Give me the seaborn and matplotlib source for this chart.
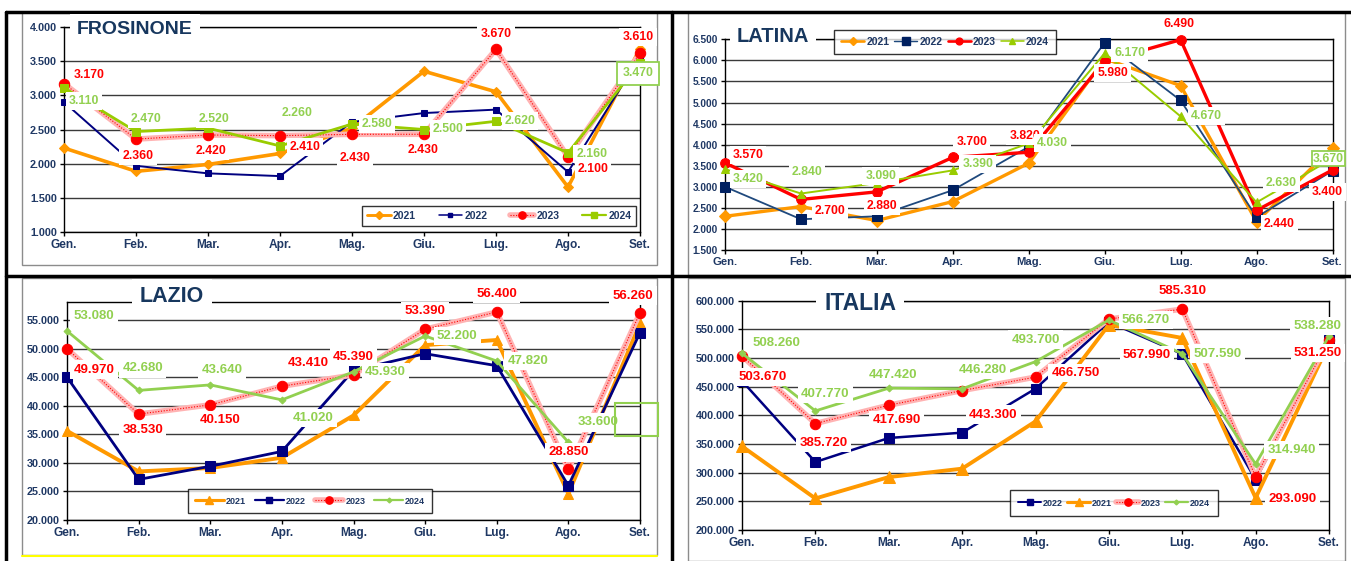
import numpy as np
import pandas as pd
import matplotlib
matplotlib.use("Agg")
import matplotlib.pyplot as plt
import matplotlib.patches as mpatches
from matplotlib.lines import Line2D
import seaborn as sns

# ---- data ----
months = ["Gen.", "Feb.", "Mar.", "Apr.", "Mag.", "Giu.", "Lug.", "Ago.", "Set."]
years = ["2021", "2022", "2023", "2024"]

fro_2021 = [2230, 1890, 1990, 2150, 2520, 3350, 3050, 1660, 3680]
fro_2022 = [2900, 1970, 1860, 1820, 2610, 2740, 2790, 1880, 3560]
fro_2023 = [3170, 2360, 2420, 2410, 2430, 2430, 3670, 2100, 3610]
fro_2024 = [3110, 2470, 2520, 2260, 2580, 2500, 2620, 2160, 3470]

lat_2021 = [2300, 2530, 2200, 2650, 3560, 6040, 5400, 2170, 3930]
lat_2022 = [3000, 2230, 2300, 2920, 3950, 6420, 5050, 2280, 3380]
lat_2023 = [3570, 2700, 2880, 3700, 3820, 5980, 6490, 2440, 3400]
lat_2024 = [3420, 2840, 3090, 3390, 4030, 6170, 4670, 2630, 3670]

laz_2021 = [35600, 28500, 29100, 30900, 38300, 50600, 51500, 24600, 54400]
laz_2022 = [45000, 27100, 29400, 32000, 46200, 49100, 47000, 26000, 52800]
laz_2023 = [49970, 38530, 40150, 43410, 45390, 53390, 56400, 28850, 56260]
laz_2024 = [53080, 42680, 43640, 41020, 45930, 52200, 47820, 33600, np.nan]

ita_2021 = [346000, 255000, 292300, 307000, 389500, 558000, 535000, 256000, 525000]
ita_2022 = [460000, 318600, 360500, 369800, 446500, 562700, 507000, 288000, 531000]
ita_2023 = [503670, 385720, 417690, 443300, 466750, 567990, 585310, 293090, 531250]
ita_2024 = [508260, 407770, 447420, 446280, 493700, 566270, 507590, 314940, 538280]

# ---- label offsets (pixels, y up) ----
fro_off23 = [(25, 9), (2, -17), (3, -16), (25, -11), (3, -24), (-1, -16), (0, 15), (25, -12), (-2, 16)]
fro_off24 = [(20, -13), (10, 13), (6, 9), (17, 33), (25, 0), (24, 0), (24, 0), (24, -1), (-2, -10)]
lat_off23 = [(23, 8), (29, -12), (5, -14), (19, 15), (-4, 16), (8, -12), (-2, 16), (23, -14), (-5, -22)]
lat_off24 = [(23, -10), (6, 22), (4, 7), (25, 6), (24, 0), (25, 0), (26, 0), (25, 19), (-4, 0)]
laz_off23 = [(27, -21), (4, -16), (10, -15), (26, 23), (0, 18), (0, 18), (0, 18), (0, 17), (-7, 17)]
laz_off24 = [(27, 15), (4, 22), (12, 15), (31, -18), (32, 0), (32, 0), (31, 0), (30, 20), (0, 0)]
ita_off23 = [(21, -21), (8, -19), (8, -15), (31, -24), (40, 4), (38, -36), (0, 18), (37, -22), (-11, -13)]
ita_off24 = [(34, 10), (10, 17), (4, 13), (21, 19), (0, 22), (37, 0), (35, 0), (36, 14), (-12, 10)]

W, H = 1351, 561
NAVY_TXT = "#1F3864"
TITLE_C = "#17375E"
FONT = "Liberation Sans"
PINK = "#FFB3B3"

sns.set_theme(style="white")
plt.rcParams["font.family"] = [FONT, "DejaVu Sans"]


def fx(x):
    return x / W


def fy(y):
    return 1 - y / H


def fmt(v):
    return f"{v:,.0f}".replace(",", ".")


fig = plt.figure(figsize=(W / 100, H / 100), dpi=100)


def make_ax(l, r, t, b):
    return fig.add_axes([fx(l), fy(b), (r - l) / W, (b - t) / H])


def draw_series(ax, vals, color, marker, ms, lw, hatched=False, mfc=None):
    df = pd.DataFrame({"mese": np.arange(len(vals)), "valore": vals})
    if hatched:
        sns.lineplot(data=df, x="mese", y="valore", ax=ax, color=PINK, lw=4,
                     clip_on=False, zorder=3)
        sns.lineplot(data=df, x="mese", y="valore", ax=ax, color=color, lw=0.8,
                     ls=(0, (1, 1.5)), marker=marker, ms=ms, mec=color, mfc=color,
                     clip_on=False, zorder=3)
        return (Line2D([], [], color=PINK, lw=4),
                Line2D([], [], color=color, lw=0.8, ls=(0, (1, 1.5)),
                       marker=marker, ms=ms * 0.7, mec=color, mfc=color))
    mfc = mfc or color
    sns.lineplot(data=df, x="mese", y="valore", ax=ax, color=color, lw=lw,
                 marker=marker, ms=ms, mec=mfc, mfc=mfc, clip_on=False, zorder=3)
    return Line2D([], [], color=color, lw=lw * 0.8, marker=marker, ms=ms * 0.7,
                  mec=mfc, mfc=mfc)


def setup_ax(ax, yticks, ylim, tsize=7.5):
    ax.set_xlim(0, 8)
    ax.set_ylim(*ylim)
    ax.set_xticks(range(9))
    ax.set_xticklabels(months)
    ax.set_yticks(yticks)
    ax.set_yticklabels([fmt(v) for v in yticks])
    ax.set_xlabel("")
    ax.set_ylabel("")
    ax.grid(axis="y", color="#3a3a3a", lw=1)
    ax.grid(axis="x", visible=False)
    ax.set_axisbelow(True)
    for s in ax.spines.values():
        s.set_color("black")
        s.set_linewidth(1)
    ax.tick_params(axis="both", which="both", direction="out", length=3,
                   width=1, color="black", pad=2, left=True, bottom=True)
    for lab in ax.get_xticklabels() + ax.get_yticklabels():
        lab.set_fontweight("bold")
        lab.set_color(NAVY_TXT)
        lab.set_fontsize(tsize)
    for lab in ax.get_xticklabels():
        lab.set_fontsize(tsize + 0.8)
    ax.set_facecolor("white")


def add_labels(ax, vals, offs, color, size, boxed=None):
    for i, (v, (dx, dy)) in enumerate(zip(vals, offs)):
        if np.isnan(v):
            continue
        ec = "none"
        pad = 0.25
        if boxed is not None and i == boxed[0]:
            ec = boxed[1]
            pad = boxed[2]
        ax.annotate(fmt(v), (i, v), xytext=(dx, dy), textcoords="offset pixels",
                    ha="center", va="center", fontsize=size, fontweight="bold",
                    color=color, zorder=10, annotation_clip=False,
                    bbox=dict(boxstyle=f"square,pad={pad}", fc="white", ec=ec, lw=1.3))


def add_title(text, cx, cy, size):
    fig.text(fx(cx), fy(cy), text, ha="center", va="center", fontsize=size,
             fontweight="bold", color=TITLE_C, zorder=20,
             bbox=dict(boxstyle="square,pad=0.35", fc="white", ec="none"))


def add_legend(handles, labels, cx, cy, size, hl, cs, bp=0.45):
    leg = fig.legend(handles, labels, loc="center", bbox_to_anchor=(fx(cx), fy(cy)),
                     ncol=4, frameon=True, fancybox=False, edgecolor="black",
                     handlelength=hl, columnspacing=cs, handletextpad=0.2,
                     borderpad=bp, prop={"size": size, "weight": "bold", "family": FONT})
    leg.get_frame().set_linewidth(1)
    for t in leg.get_texts():
        t.set_color(NAVY_TXT)
    leg.set_zorder(30)


LBL_GREEN = "#92D050"

# ---- FROSINONE ----
ax = make_ax(64, 640, 26.7, 232.3)
h21 = draw_series(ax, fro_2021, "#FF9900", "D", 5.5, 2.6)
h22 = draw_series(ax, fro_2022, "#000080", "s", 5, 1.4)
h23 = draw_series(ax, fro_2023, "#FF0000", "o", 7.5, 0, hatched=True)
h24 = draw_series(ax, fro_2024, "#99CC00", "s", 6, 2)
setup_ax(ax, list(range(1000, 4001, 500)), (1000, 4000), tsize=7.8)
add_labels(ax, fro_2023, fro_off23, "#FF0000", 8.8)
add_labels(ax, fro_2024, fro_off24, LBL_GREEN, 8.8, boxed=(8, LBL_GREEN, 0.45))
add_title("FROSINONE", 135, 29, 14)
add_legend([h21, h22, h23, h24], years, 499, 216, 7.5, 2.3, 2.2)

# ---- LATINA ----
ax = make_ax(725, 1332.5, 39.3, 250)
h21 = draw_series(ax, lat_2021, "#FF9900", "D", 6, 2.4)
h22 = draw_series(ax, lat_2022, "#1F497D", "s", 7.5, 1.3, mfc="#002060")
h23 = draw_series(ax, lat_2023, "#FF0000", "o", 7, 2.4)
h24 = draw_series(ax, lat_2024, "#99CC00", "^", 5.5, 1.4)
setup_ax(ax, list(range(1500, 6501, 500)), (1500, 6500), tsize=7.3)
add_labels(ax, lat_2023, lat_off23, "#FF0000", 8.8)
add_labels(ax, lat_2024, lat_off24, LBL_GREEN, 8.8, boxed=(8, LBL_GREEN, 0.12))
add_title("LATINA", 773, 37, 14.5)
add_legend([h21, h22, h23, h24], years, 945, 42, 7.5, 2.2, 0.5, bp=0.7)

# ---- LAZIO ----
ax = make_ax(67, 640, 301.7, 520)
h21 = draw_series(ax, laz_2021, "#FF9900", "^", 7.5, 2.8)
h22 = draw_series(ax, laz_2022, "#000080", "s", 7, 2)
h23 = draw_series(ax, laz_2023, "#FF0000", "o", 7.5, 0, hatched=True)
h24 = draw_series(ax, laz_2024, "#92D050", "D", 3.5, 2)
setup_ax(ax, list(range(20000, 55001, 5000)), (20000, 58200), tsize=7.8)
add_labels(ax, laz_2023, laz_off23, "#FF0000", 9.5)
add_labels(ax, laz_2024, laz_off24, LBL_GREEN, 9.5)
add_title("LAZIO", 172, 297, 15.5)
add_legend([h21, h22, h23, h24], years, 310, 501, 6.5, 3.2, 1.0, bp=0.8)
fig.add_artist(mpatches.Rectangle((fx(615), fy(436)), 43 / W, 33 / H,
                                  transform=fig.transFigure, fc="none",
                                  ec=LBL_GREEN, lw=1.5, zorder=25))

# ---- ITALIA ----
ax = make_ax(742, 1329, 300.7, 530)
h22 = draw_series(ax, ita_2022, "#000080", "s", 6.5, 1.8)
h21 = draw_series(ax, ita_2021, "#FF9900", "^", 8.5, 2.8)
h23 = draw_series(ax, ita_2023, "#FF0000", "o", 7.5, 0, hatched=True)
h24 = draw_series(ax, ita_2024, "#92D050", "D", 3.5, 2)
setup_ax(ax, list(range(200000, 600001, 50000)), (200000, 600000), tsize=7.8)
add_labels(ax, ita_2023, ita_off23, "#FF0000", 9.5)
add_labels(ax, ita_2024, ita_off24, LBL_GREEN, 9.5)
add_title("ITALIA", 860, 304, 16.5)
add_legend([h22, h21, h23, h24], [years[1], years[0], years[2], years[3]],
           1114, 503, 6.5, 2.6, 0.4, bp=0.9)

# ---- panel frames ----
for (l, t, r, b) in [(22, 12, 657, 265), (22, 278, 657, 555),
                     (688, 12, 1345, 275), (688, 278, 1345, 561)]:
    fig.add_artist(mpatches.Rectangle((fx(l), fy(b)), (r - l) / W, (b - t) / H,
                                      transform=fig.transFigure, fc="none",
                                      ec="#8c8c8c", lw=1, zorder=0))
for xs, ys in [((6, 6), (12, 561)), ((672, 672), (12, 561)),
               ((6, 1351), (12, 12)), ((6, 1351), (276, 276))]:
    fig.add_artist(Line2D([fx(xs[0]), fx(xs[1])], [fy(ys[0]), fy(ys[1])],
                          transform=fig.transFigure, color="black", lw=2.5))
fig.add_artist(Line2D([fx(22), fx(657)], [fy(555.5), fy(555.5)],
                      transform=fig.transFigure, color="#FFFF00", lw=1.5))

fig.savefig("out.png", dpi=100, facecolor="white")
